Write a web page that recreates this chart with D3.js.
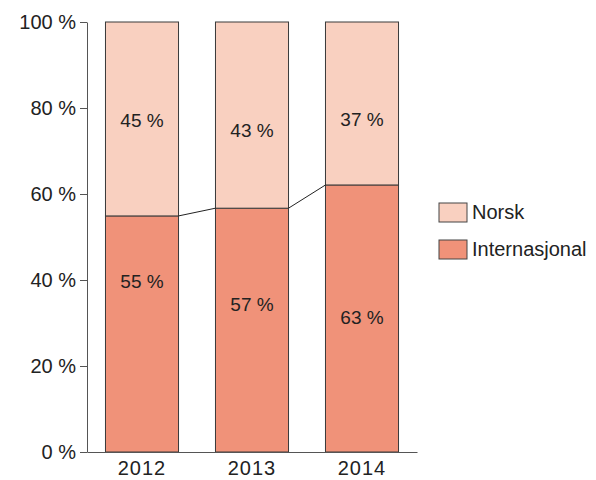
<!DOCTYPE html>
<html>
<head>
<meta charset="utf-8">
<script src="https://cdn.jsdelivr.net/npm/d3@7"></script>
<style>
  body { margin: 0; background: #fff; }
  text { font-family: "Liberation Sans", Arial, sans-serif; fill: #222; }
</style>
</head>
<body>
<div id="chart"></div>
<script>
// data
var years = ["2012", "2013", "2014"];
var internasjonal = [54.9, 56.7, 62.1];
var norsk = [45.1, 43.3, 37.9];
var intlLabels = ["55 %", "57 %", "63 %"];
var norskLabels = ["45 %", "43 %", "37 %"];
// where the value labels sit, in percent units
var intlLabelAt = [39.7, 34.3, 31.4];
var norskLabelAt = [77.1, 74.8, 77.3];
var yTicks = [0, 20, 40, 60, 80, 100];
var seriesNames = ["Norsk", "Internasjonal"];
var seriesColors = ["#f9d0c0", "#f09279"];

var width = 596;
var height = 480;

var svg = d3.select("#chart").append("svg")
    .attr("width", width)
    .attr("height", height);

var x = d3.scaleBand()
    .domain(years)
    .range([87, 417])
    .paddingInner(0.336)
    .paddingOuter(0.168);

var y = d3.scaleLinear()
    .domain([0, 100])
    .range([452, 22]);

// bars
var g = svg.append("g");
years.forEach(function (yr, i) {
    g.append("rect")
        .attr("x", x(yr))
        .attr("y", y(internasjonal[i]))
        .attr("width", x.bandwidth())
        .attr("height", y(0) - y(internasjonal[i]))
        .attr("fill", seriesColors[1])
        .attr("stroke", "#3a3a3a")
        .attr("stroke-width", 1);
    g.append("rect")
        .attr("x", x(yr))
        .attr("y", y(internasjonal[i] + norsk[i]))
        .attr("width", x.bandwidth())
        .attr("height", y(internasjonal[i]) - y(internasjonal[i] + norsk[i]))
        .attr("fill", seriesColors[0])
        .attr("stroke", "#3a3a3a")
        .attr("stroke-width", 1);

    g.append("text")
        .attr("x", x(yr) + x.bandwidth() / 2)
        .attr("y", y(intlLabelAt[i]))
        .attr("dy", "0.35em")
        .attr("text-anchor", "middle")
        .style("font-size", "19px")
        .text(intlLabels[i]);
    g.append("text")
        .attr("x", x(yr) + x.bandwidth() / 2)
        .attr("y", y(norskLabelAt[i]))
        .attr("dy", "0.35em")
        .attr("text-anchor", "middle")
        .style("font-size", "19px")
        .text(norskLabels[i]);
});

// connector lines between the bars
for (var i = 0; i < years.length - 1; i++) {
    g.append("line")
        .attr("x1", x(years[i]) + x.bandwidth())
        .attr("y1", y(internasjonal[i]))
        .attr("x2", x(years[i + 1]))
        .attr("y2", y(internasjonal[i + 1]))
        .attr("stroke", "#222")
        .attr("stroke-width", 1);
}

// y axis
var yAxis = svg.append("g")
    .attr("transform", "translate(87,0)")
    .call(d3.axisLeft(y).tickValues(yTicks).tickSize(7).tickSizeOuter(0)
        .tickFormat(function (d) { return d + " %"; }));
yAxis.selectAll("path, line").attr("stroke", "#555");
yAxis.selectAll("text")
    .attr("x", -11)
    .style("font-size", "20px")
    .style("font-family", "'Liberation Sans', Arial, sans-serif")
    .attr("fill", "#222");

// x axis (baseline only)
var xAxis = svg.append("g")
    .attr("transform", "translate(0,452)")
    .call(d3.axisBottom(x).tickSize(0).tickSizeOuter(0));
xAxis.select(".domain").attr("stroke", "#555");
xAxis.selectAll("text")
    .attr("y", 9)
    .style("font-size", "20px")
    .style("letter-spacing", "1px")
    .style("font-family", "'Liberation Sans', Arial, sans-serif")
    .attr("fill", "#222");

// legend
var legend = svg.append("g").attr("transform", "translate(439,203)");
seriesNames.forEach(function (name, i) {
    var row = legend.append("g").attr("transform", "translate(0," + (i * 37) + ")");
    row.append("rect")
        .attr("width", 28)
        .attr("height", 19)
        .attr("fill", seriesColors[i])
        .attr("stroke", "#444")
        .attr("stroke-width", 1);
    row.append("text")
        .attr("x", 33)
        .attr("y", 16)
        .style("font-size", "20px")
        .text(name);
});
</script>
</body>
</html>
